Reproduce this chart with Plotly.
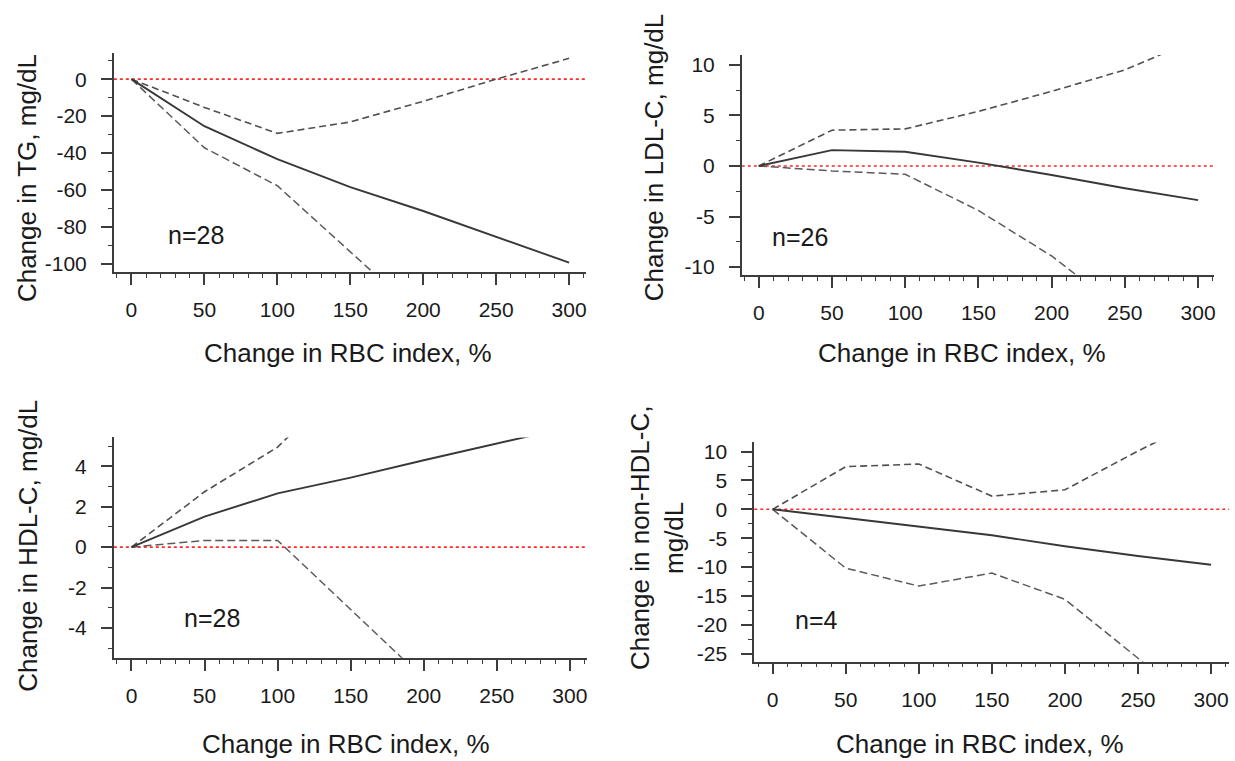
import plotly.graph_objects as go

W, H = 1235, 761

# RBC index change (%) at which each curve is evaluated
rbc_change = [0, 50, 100, 150, 200, 250, 300]

# Triglycerides (mg/dL): fitted change and confidence band
tg_fit = [0, -25.5, -43.4, -58.5, -71.5, -85.6, -99.5]
tg_upper = [0, -15.3, -29.4, -23.2, -12.0, 0.0, 11.3]
tg_lower = [0, -37.2, -57.8, -93.5, -129.5, None, None]

# LDL cholesterol (mg/dL)
ldl_fit = [0, 1.57, 1.41, 0.33, -0.89, -2.2, -3.38]
ldl_upper = [0, 3.54, 3.67, 5.4, 7.38, 9.5, 12.6]
ldl_lower = [0, -0.49, -0.82, -4.4, -8.9, -14.5, None]

# HDL cholesterol (mg/dL)
hdl_fit = [0, 1.51, 2.66, 3.44, 4.3, 5.11, 5.95]
hdl_upper = [0, 2.74, 4.95, 8.5, None, None, None]
hdl_lower = [0, 0.33, 0.33, -3.07, -6.5, None, None]

# Non-HDL cholesterol (mg/dL)
nonhdl_fit = [0, -1.5, -3.0, -4.5, -6.4, -8.1, -9.62]
nonhdl_upper = [0, 7.39, 7.85, 2.29, 3.38, 10.1, 16.4]
nonhdl_lower = [0, -10.2, -13.3, -11.05, -15.6, -25.9, -36.0]

# Labelled tick values of each y axis
tg_ticks = [-100, -80, -60, -40, -20, 0]
ldl_ticks = [-10, -5, 0, 5, 10]
hdl_ticks = [-4, -2, 0, 2, 4]
nonhdl_ticks = [-25, -20, -15, -10, -5, 0, 5, 10]
x_ticks = [0, 50, 100, 150, 200, 250, 300]

y_titles = ["Change in TG, mg/dL", "Change in LDL-C, mg/dL",
            "Change in HDL-C, mg/dL", "Change in non-HDL-C,<br>mg/dL"]
x_title = "Change in RBC index, %"
n_labels = ["n=28", "n=26", "n=28", "n=4"]

# ---- layout constants (pixels) ----
FONT = "Liberation Sans, Arial, Helvetica, sans-serif"
AX = "#3c3c3c"
TXT = "#1a1a1a"


def tick_text(vals):
    # plain hyphen for negatives
    return ["%g" % v for v in vals]


panels = [
    dict(fit=tg_fit, upper=tg_upper, lower=tg_lower, yticks=tg_ticks,
         box=(114, 51.7, 587.3, 272), xr=[-12.1, 311.8], yr=[-104.7, 14.0],
         minor=10, xt=(349, 353), yt=(27.8, 177.5), nl=(196, 235)),
    dict(fit=ldl_fit, upper=ldl_upper, lower=ldl_lower, yticks=ldl_ticks,
         box=(743, 53.3, 1216, 275), xr=[-11.6, 310.9], yr=[-10.8, 10.98],
         minor=2.5, xt=(964, 353), yt=(654.7, 156.7), nl=(801.5, 236.7)),
    dict(fit=hdl_fit, upper=hdl_upper, lower=hdl_lower, yticks=hdl_ticks,
         box=(114, 438.3, 588, 660), xr=[-12.1, 311.8], yr=[-5.47, 5.43],
         minor=1, xt=(347, 746.7), yt=(27.8, 547.5), nl=(212, 620)),
    dict(fit=nonhdl_fit, upper=nonhdl_upper, lower=nonhdl_lower, yticks=nonhdl_ticks,
         box=(755.5, 443.3, 1231, 664), xr=[-12.6, 312.3], yr=[-26.4, 11.6],
         minor=2.5, xt=(982, 746.7), yt=(658.7, 540), nl=(817.4, 621.7)),
]

fig = go.Figure()
layout = dict(
    width=W, height=H, margin=dict(l=0, r=0, t=0, b=0),
    paper_bgcolor="white", plot_bgcolor="white", showlegend=False,
    annotations=[], shapes=[],
)

for i, p in enumerate(panels, start=1):
    sx = "" if i == 1 else str(i)
    xa, ya = "x" + sx, "y" + sx
    x0, top, x1, bottom = p["box"]

    tick_common = dict(
        showline=True, linecolor=AX, linewidth=1.7,
        ticks="outside", ticklen=11, tickwidth=1.6, tickcolor=AX,
        showgrid=False, zeroline=False,
        tickfont=dict(family=FONT, size=21, color=TXT),
    )
    layout["xaxis" + sx] = dict(
        domain=[x0 / W, x1 / W], range=p["xr"], anchor=ya,
        tickmode="array", tickvals=x_ticks, ticktext=tick_text(x_ticks),
        ticklabelstandoff=7,
        minor=dict(ticks="outside", ticklen=4, tickwidth=1.3, tickcolor=AX,
                   tickmode="linear", tick0=0, dtick=10, showgrid=False),
        **tick_common,
    )
    layout["yaxis" + sx] = dict(
        domain=[1 - bottom / H, 1 - top / H], range=p["yr"], anchor=xa,
        tickmode="array", tickvals=p["yticks"], ticktext=tick_text(p["yticks"]),
        ticklabelstandoff=10,
        minor=dict(ticks="outside", ticklen=4, tickwidth=1.3, tickcolor=AX,
                   tickmode="linear", tick0=0, dtick=p["minor"], showgrid=False),
        **tick_common,
    )

    # reference line at zero change
    layout["shapes"].append(dict(
        type="line", xref=xa + " domain", yref=ya, x0=0, x1=1, y0=0, y1=0,
        line=dict(color="#ff2a2a", width=1.6, dash="dot"), layer="below",
    ))

    for ys, dash, col, w in [(p["upper"], "7px,4px", "#505050", 1.6),
                             (p["lower"], "8px,4px", "#5a5a5a", 1.5),
                             (p["fit"], "solid", "#383838", 1.9)]:
        fig.add_trace(go.Scatter(
            x=rbc_change, y=ys, mode="lines", xaxis=xa, yaxis=ya,
            line=dict(color=col, width=w, dash=dash), connectgaps=False,
            hoverinfo="skip",
        ))

    cx, cy = p["xt"]
    layout["annotations"].append(dict(
        text=x_title, xref="paper", yref="paper", x=cx / W, y=1 - cy / H,
        xanchor="center", yanchor="middle", showarrow=False,
        font=dict(family=FONT, size=26, color=TXT),
    ))
    tx, ty = p["yt"]
    layout["annotations"].append(dict(
        text=y_titles[i - 1], xref="paper", yref="paper", x=tx / W, y=1 - ty / H,
        xanchor="center", yanchor="middle", showarrow=False, textangle=-90,
        font=dict(family=FONT, size=26, color=TXT),
    ))
    nx, ny = p["nl"]
    layout["annotations"].append(dict(
        text=n_labels[i - 1], xref="paper", yref="paper", x=nx / W, y=1 - ny / H,
        xanchor="center", yanchor="middle", showarrow=False,
        font=dict(family=FONT, size=25, color=TXT),
    ))

fig.update_layout(**layout)
fig.write_html("out.html")
